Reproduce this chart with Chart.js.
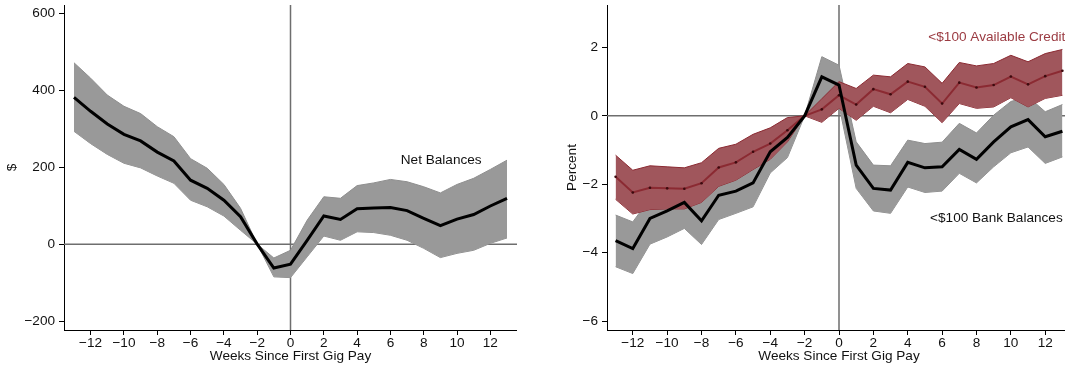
<!DOCTYPE html>
<html>
<head>
<meta charset="utf-8">
<script src="https://cdn.jsdelivr.net/npm/chart.js@4.4.1/dist/chart.umd.min.js"></script>
<style>
  html, body { margin: 0; padding: 0; background: #fff; overflow: hidden; width: 1065px; height: 368px; }
  .panel { position: absolute; top: 0; }
</style>
</head>
<body>
<div class="panel" style="left:0"><canvas id="leftChart" width="517" height="368"></canvas></div>
<div class="panel" style="left:560px"><canvas id="rightChart" width="515" height="368"></canvas></div>
<script>
var weeks = [-13, -12, -11, -10, -9, -8, -7, -6, -5, -4, -3, -2, -1, 0, 1, 2, 3, 4, 5, 6, 7, 8, 9, 10, 11, 12, 13];
var xTicks = [-12, -10, -8, -6, -4, -2, 0, 2, 4, 6, 8, 10, 12];

// left panel: net balances ($)
var netBal = [381, 345, 312, 285, 268, 239, 216, 166, 145, 114, 71, 0, -62, -52, 10, 73, 64, 92, 94, 95, 87, 67, 48, 65, 77, 99, 119];
var netHi = [471, 431, 387, 358, 339, 305, 279, 222, 197, 155, 93, 0, -36, -16, 62, 123, 119, 152, 159, 168, 162, 149, 133, 155, 171, 194, 218];
var netLo = [293, 261, 233, 210, 198, 177, 158, 114, 97, 73, 36, 0, -85, -87, -33, 21, 10, 32, 30, 23, 10, -11, -35, -24, -16, 2, 16];
var netTicks = [-200, 0, 200, 400, 600];

// right panel: percent with <$100
var credit = [-1.78, -2.24, -2.10, -2.12, -2.13, -1.97, -1.51, -1.36, -1.05, -0.81, -0.42, 0, 0.19, 0.60, 0.33, 0.78, 0.63, 1.00, 0.85, 0.36, 0.97, 0.83, 0.90, 1.15, 0.92, 1.16, 1.32];
var creditHi = [-1.15, -1.59, -1.46, -1.49, -1.52, -1.37, -0.95, -0.83, -0.54, -0.35, -0.05, 0, 0.50, 1.00, 0.80, 1.19, 1.14, 1.53, 1.43, 0.95, 1.56, 1.46, 1.53, 1.77, 1.58, 1.82, 1.94];
var creditLo = [-2.44, -2.87, -2.74, -2.72, -2.72, -2.53, -2.06, -1.88, -1.57, -1.27, -0.76, 0, -0.19, 0.22, -0.13, 0.28, 0.09, 0.48, 0.28, -0.20, 0.36, 0.22, 0.26, 0.53, 0.26, 0.51, 0.60];
var bank = [-3.65, -3.88, -3.00, -2.78, -2.53, -3.07, -2.32, -2.20, -1.96, -1.05, -0.63, 0, 1.14, 0.90, -1.44, -2.12, -2.17, -1.36, -1.52, -1.49, -0.98, -1.27, -0.76, -0.32, -0.11, -0.61, -0.45];
var bankHi = [-2.90, -3.10, -2.42, -2.20, -1.95, -2.40, -1.65, -1.55, -1.30, -0.45, -0.15, 0, 1.73, 1.48, -0.76, -1.44, -1.46, -0.71, -0.81, -0.77, -0.22, -0.50, 0.02, 0.42, 0.56, 0.12, 0.33];
var bankLo = [-4.41, -4.61, -3.75, -3.54, -3.29, -3.76, -3.03, -2.85, -2.66, -1.67, -1.22, 0, 0.50, 0.30, -2.12, -2.78, -2.85, -2.08, -2.24, -2.20, -1.68, -1.96, -1.49, -1.08, -0.91, -1.39, -1.20];
var pctTicks = [-6, -4, -2, 0, 2];

var FONT = { family: "'Liberation Sans', Arial, Helvetica, sans-serif", size: 13.6 };
var GRAY = "#999999";
var RED_FILL = "#a0565c";
var RED_LINE = "#8b2a32";

function pts(vals) {
  return weeks.map((w, i) => ({ x: w, y: vals[i] }));
}

function fmt(v) {
  return v < 0 ? "\u2212" + Math.abs(v) : String(v);
}

function bandPair(hi, lo, fill, edge) {
  return [
    { data: pts(hi), borderColor: edge, borderWidth: 1, backgroundColor: fill, fill: "+1", pointRadius: 0, tension: 0 },
    { data: pts(lo), borderColor: edge, borderWidth: 1, fill: false, pointRadius: 0, tension: 0 },
  ];
}

// zero lines under the bands, text labels on top
var refLines = {
  id: "refLines",
  beforeDatasetsDraw(chart) {
    var ctx = chart.ctx, a = chart.chartArea;
    var px = chart.scales.x.getPixelForValue(0);
    var py = chart.scales.y.getPixelForValue(0);
    ctx.save();
    ctx.strokeStyle = "#6e6e6e";
    ctx.lineWidth = 1.5;
    ctx.beginPath();
    ctx.moveTo(px, a.top); ctx.lineTo(px, a.bottom);
    ctx.moveTo(a.left, py); ctx.lineTo(a.right, py);
    ctx.stroke();
    ctx.restore();
  },
  afterDatasetsDraw(chart, args, opts) {
    var ctx = chart.ctx;
    ctx.save();
    ctx.font = FONT.size + "px " + FONT.family;
    ctx.textBaseline = "middle";
    ctx.textAlign = "left";
    (opts.labels || []).forEach((l) => {
      ctx.fillStyle = l.color;
      ctx.fillText(l.text, chart.scales.x.getPixelForValue(l.x), chart.scales.y.getPixelForValue(l.y));
    });
    ctx.restore();
  },
};

function makeChart(id, datasets, o) {
  new Chart(document.getElementById(id), {
    type: "line",
    data: { datasets: datasets },
    plugins: [refLines],
    options: {
      responsive: false,
      devicePixelRatio: 1,
      animation: false,
      layout: { padding: { top: 5, left: 0, right: 0, bottom: 0 } },
      plugins: { legend: { display: false }, tooltip: { enabled: false }, refLines: { labels: o.labels } },
      scales: {
        x: {
          type: "linear",
          min: o.xMin,
          max: o.xMax,
          afterBuildTicks: (s) => { s.ticks = xTicks.map((v) => ({ value: v })); },
          afterFit: (s) => { s.height = 38; s.paddingLeft = 0; s.paddingRight = 0; },
          border: { display: true, color: "#000", width: 1 },
          grid: { drawOnChartArea: false, tickLength: 5, color: "#000", tickColor: "#000" },
          ticks: { font: FONT, color: "#111", padding: 0, maxRotation: 0, autoSkip: false, callback: fmt },
          title: { display: true, text: "Weeks Since First Gig Pay", font: FONT, color: "#111", padding: { top: 0, bottom: 4 } },
        },
        y: {
          min: o.yMin,
          max: o.yMax,
          afterBuildTicks: (s) => { s.ticks = o.yTicks.map((v) => ({ value: v })); },
          afterFit: (s) => { s.width = o.yWidth; s.paddingTop = 0; s.paddingBottom = 0; },
          border: { display: true, color: "#000", width: 1 },
          grid: { drawOnChartArea: false, tickLength: 5, color: "#000", tickColor: "#000" },
          ticks: { font: FONT, color: "#111", padding: 4, autoSkip: false, callback: fmt },
          title: { display: true, text: o.yTitle, font: FONT, color: "#111", padding: { top: 4, bottom: 0 } },
        },
      },
    },
  });
}

makeChart(
  "leftChart",
  [{ data: pts(netBal), borderColor: "#000", borderWidth: 3, pointRadius: 0, fill: false, tension: 0 }]
    .concat(bandPair(netHi, netLo, GRAY, "#8e8e8e")),
  {
    xMin: -13.6, xMax: 13.6, yMin: -223, yMax: 621, yTicks: netTicks, yWidth: 64, yTitle: "$",
    labels: [{ text: "Net Balances", x: 6.62, y: 218, color: "#111" }],
  }
);

makeChart(
  "rightChart",
  [
    { data: pts(bank), borderColor: "#000", borderWidth: 3, pointRadius: 0, fill: false, tension: 0 },
    { data: pts(credit), borderColor: RED_LINE, borderWidth: 2, pointRadius: 1.3, pointBorderWidth: 0,
      pointBackgroundColor: "#3a0a0e", fill: false, tension: 0 },
  ]
    .concat(bandPair(creditHi, creditLo, RED_FILL, RED_LINE))
    .concat(bandPair(bankHi, bankLo, GRAY, "#8e8e8e")),
  {
    xMin: -13.5, xMax: 13.5, yMin: -6.26, yMax: 3.24, yTicks: pctTicks, yWidth: 47, yTitle: "Percent",
    labels: [
      { text: "<$100 Available Credit", x: 5.2, y: 2.29, color: "#9b3b42" },
      { text: "<$100 Bank Balances", x: 5.3, y: -3.0, color: "#111" },
    ],
  }
);
</script>
</body>
</html>
